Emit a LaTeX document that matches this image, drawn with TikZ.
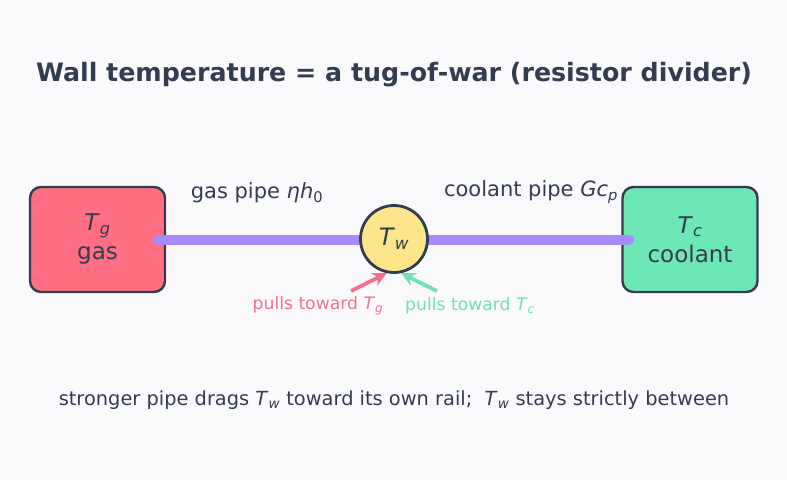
\documentclass[tikz,border=0pt]{standalone}
\usepackage{fontspec}
\setmainfont{DejaVu Sans}
\usepackage{tikz}
\usetikzlibrary {arrows.meta,
                 positioning}
\definecolor{ink}{HTML}{333D4F}
\definecolor{gasred}{HTML}{FF6F81}
\definecolor{coolgreen}{HTML}{6EE7B7}
\definecolor{pipeviolet}{HTML}{A78BFA}
\definecolor{wallyellow}{HTML}{FDE68A}
\definecolor{pullred}{HTML}{F7708A}
\definecolor{pullgreen}{HTML}{6EE2B4}
\definecolor{paper}{HTML}{FAFAFD}
\newcommand{\sym}[2]{\textit{#1}\textsubscript{\textit{#2}}}
\tikzset{
        base/.style={draw=ink, line width=2.4pt, align=center, text=ink},
        rail/.style={base, rectangle, rounded corners=11pt,
                     minimum width=135pt, minimum height=105pt,
                     font=\fontsize{23}{29}\selectfont},
        wallnode/.style={base, circle, minimum size=67pt, fill=wallyellow,
                         line width=2.8pt, inner sep=0pt,
                         font=\fontsize{24}{28}\selectfont},
        pipe/.style={line width=10pt, line cap=round, pipeviolet},
        pipelabel/.style={text=ink, font=\fontsize{21}{24}\selectfont},
        pull/.style={-{Stealth[length=14pt, width=14pt]}, line width=3.8pt},
        pulllabel/.style={font=\fontsize{17.2}{20}\selectfont},
 }

\begin{document}
\begin{tikzpicture}[x=1pt, y=-1pt]
    \useasboundingbox[fill=paper] (0,0) rectangle (787,480);

    \node[font=\fontsize{25.3}{30}\selectfont\bfseries, text=ink] (title)
        at (394,75) {Wall temperature = a tug-of-war (resistor divider)};

    \node[rail, fill=gasred] (gas) at (97.5,239.5) {\sym{T}{g}\\gas};
    \node[rail, fill=coolgreen] (coolant) at (690,239.5)
        {\sym{T}{c}\\coolant};

    \draw[pipe] ([xshift=-8pt]gas.east) -- ([xshift=8pt]coolant.west);
    \node[wallnode] (wall) at (394,239) {\sym{T}{w}};

    \node[pipelabel] (gaspipe) at (257,193) {gas pipe \textit{ηh}\textsubscript{0}};
    \node[pipelabel] (coolpipe) at (531,192) {coolant pipe \textit{Gc}\textsubscript{\textit{p}}};

    \coordinate (pullg) at (351,291);
    \coordinate (pullc) at (437,291);
    \draw[pull, pullred] (pullg) -- (wall.258);
    \draw[pull, pullgreen] (pullc) -- (wall.282);

    \node[pulllabel, text=pullred] (towardg) at (318,306)
        {pulls toward \sym{T}{g}};
    \node[pulllabel, text=pullgreen] (towardc) at (470,306)
        {pulls toward \sym{T}{c}};

    \node[text=ink, font=\fontsize{19.4}{23}\selectfont] (note) at (394,400)
        {stronger pipe drags \sym{T}{w} toward its own rail;\ \ \sym{T}{w} stays strictly between};
\end{tikzpicture}
\end{document}
